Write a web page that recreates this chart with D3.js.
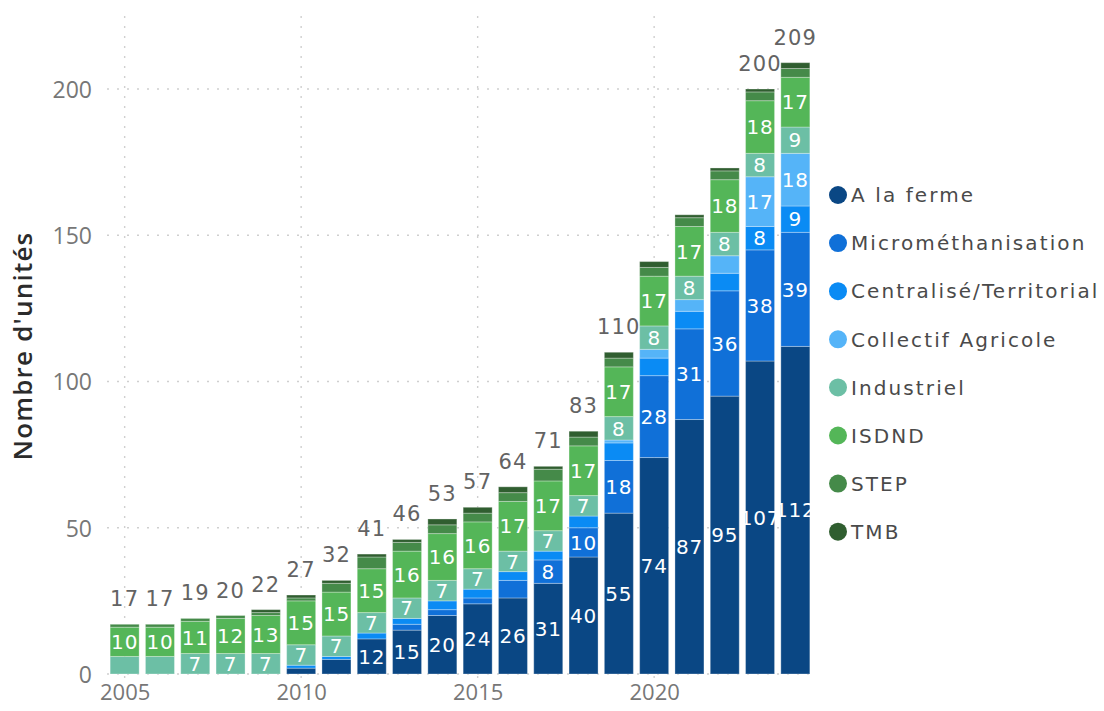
<!DOCTYPE html>
<html lang="fr">
<head>
<meta charset="utf-8">
<title>Nombre d'unités par type</title>
<script src="https://d3js.org/d3.v7.min.js"></script>
<style>
  body { margin: 0; background: #fff; }
  svg { display: block; }
  .grid line { stroke: #cfcfcf; stroke-dasharray: 2 8; stroke-width: 1.4; }
  .tick-lab { font-family: "Open Sans", sans-serif; fill: #777; }
  .bar-lab { font-family: "DejaVu Sans", sans-serif; font-size: 20px; fill: #fff; letter-spacing: 0.8px; }
  .tot-lab { font-family: "DejaVu Sans", sans-serif; font-size: 21px; fill: #636363; letter-spacing: 1.2px; }
  .leg-lab { font-family: "DejaVu Sans", sans-serif; font-size: 20px; fill: #4a4a4a; letter-spacing: 2.1px; }
</style>
</head>
<body>
<div id="chart"></div>
<script>
// values, one array per series
var years      = [2005,2006,2007,2008,2009,2010,2011,2012,2013,2014,2015,2016,2017,2018,2019,2020,2021,2022,2023,2024];
var aLaFerme   = [0,0,0,0,0,2,5,12,15,20,24,26,31,40,55,74,87,95,107,112];
var micro      = [0,0,0,0,0,0,0,0,2,2,2,6,8,10,18,28,31,36,38,39];
var centralise = [0,0,0,0,0,1,1,2,2,3,3,3,3,4,6,6,6,6,8,9];
var collectif  = [0,0,0,0,0,0,0,0,0,0,0,0,0,0,1,3,4,6,17,18];
var industriel = [6,6,7,7,7,7,7,7,7,7,7,7,7,7,8,8,8,8,8,9];
var isdnd      = [10,10,11,12,13,15,15,15,16,16,16,17,17,17,17,17,17,18,18,17];
var step       = [1,1,1,1,1,1,3,4,3,3,3,3,4,3,3,3,3,3,3,3];
var tmb        = [0,0,0,0,1,1,1,1,1,2,2,2,1,2,2,2,1,1,1,2];

var seriesNames  = ["A la ferme", "Microméthanisation", "Centralisé/Territorial", "Collectif Agricole", "Industriel", "ISDND", "STEP", "TMB"];
var seriesColors = ["#0a4784", "#1070d8", "#0a8bf4", "#55b4f8", "#6cbfa5", "#54b658", "#458a49", "#305e30"];
var seriesValues = [aLaFerme, micro, centralise, collectif, industriel, isdnd, step, tmb];

var yTicks = [0, 50, 100, 150, 200];
var xTicks = [2005, 2010, 2015, 2020];
var hiddenTotals = [2020, 2021, 2022];   // totals not printed in the original
var yTitle = "Nombre d'unités";

var W = 1104, H = 711;
var margin = {top: 16, right: 291, bottom: 37, left: 107};

// build rows for the stack
var rows = years.map(function(y, i) {
  var r = {year: y};
  seriesNames.forEach(function(n, k) { r[n] = seriesValues[k][i]; });
  r.total = d3.sum(seriesValues, function(s) { return s[i]; });
  return r;
});

var x = d3.scaleLinear()
  .domain([2004.5, 2024.5])
  .range([margin.left, W - margin.right]);
var y = d3.scaleLinear()
  .domain([0, 225])
  .range([H - margin.bottom, H - margin.bottom - 225 * 2.925]);

var bw = 29;

var svg = d3.select("#chart").append("svg")
  .attr("width", W).attr("height", H);

// grid
var grid = svg.append("g").attr("class", "grid");
grid.selectAll(".gy").data(yTicks).enter().append("line")
  .attr("x1", margin.left).attr("x2", W - margin.right)
  .attr("y1", function(d) { return y(d); }).attr("y2", function(d) { return y(d); });
grid.selectAll(".gx").data(xTicks).enter().append("line")
  .attr("x1", function(d) { return x(d); }).attr("x2", function(d) { return x(d); })
  .attr("y1", y.range()[1]).attr("y2", y(0) + 6);

// axes (labels only, plotly style)
var yAxis = svg.append("g")
  .attr("transform", "translate(" + (margin.left - 15) + ",0)")
  .call(d3.axisLeft(y).tickValues(yTicks).tickSize(0).tickPadding(0));
yAxis.select(".domain").remove();
yAxis.selectAll("text").attr("class", "tick-lab").style("font-size", "23px").attr("dy", "0.36em");

var xAxis = svg.append("g")
  .attr("transform", "translate(0," + (y(0) + 10) + ")")
  .call(d3.axisBottom(x).tickValues(xTicks).tickFormat(d3.format("d")).tickSize(0).tickPadding(0));
xAxis.select(".domain").remove();
xAxis.selectAll("text").attr("class", "tick-lab").style("font-size", "22px").attr("dy", "0.71em");

svg.append("text")
  .attr("transform", "translate(32," + 346 + ") rotate(-90)")
  .attr("text-anchor", "middle")
  .style("font-family", "'Open Sans', sans-serif")
  .style("font-weight", 600)
  .style("font-size", "26px")
  .style("letter-spacing", "1.2px")
  .style("fill", "#2b2b2b")
  .text(yTitle);

// stacked bars
var stacked = d3.stack().keys(seriesNames)(rows);

var layers = svg.selectAll(".layer").data(stacked).enter().append("g")
  .attr("class", "layer")
  .attr("fill", function(d, i) { return seriesColors[i]; });

layers.selectAll("rect")
  .data(function(d) { return d.filter(function(p) { return p[1] > p[0]; }); })
  .enter().append("rect")
  .attr("x", function(d) { return x(d.data.year) - bw / 2; })
  .attr("width", bw)
  .attr("y", function(d) { return y(d[1]); })
  .attr("height", function(d) { return y(d[0]) - y(d[1]); })
  .attr("stroke", "rgba(255,255,255,0.3)")
  .attr("stroke-width", 1);

layers.selectAll("text")
  .data(function(d) { return d.filter(function(p) { return p[1] - p[0] >= 7; }); })
  .enter().append("text")
  .attr("class", "bar-lab")
  .attr("x", function(d) { return x(d.data.year); })
  .attr("y", function(d) { return y((d[0] + d[1]) / 2); })
  .attr("dy", "0.36em")
  .attr("text-anchor", "middle")
  .text(function(d) { return d[1] - d[0]; });

// totals
svg.selectAll(".tot-lab")
  .data(rows.filter(function(r) { return hiddenTotals.indexOf(r.year) < 0; }))
  .enter().append("text")
  .attr("class", "tot-lab")
  .attr("x", function(d) { return x(d.year); })
  .attr("y", function(d) { return y(d.total) - 18; })
  .attr("text-anchor", "middle")
  .text(function(d) { return d.total; });

// legend
var legend = svg.append("g").attr("transform", "translate(838,195)");
var item = legend.selectAll("g").data(seriesNames).enter().append("g")
  .attr("transform", function(d, i) { return "translate(0," + i * 48.1 + ")"; });
item.append("circle").attr("r", 9).attr("fill", function(d, i) { return seriesColors[i]; });
item.append("text").attr("class", "leg-lab")
  .attr("x", 13).attr("dy", "0.36em")
  .text(function(d) { return d; });
</script>
</body>
</html>
